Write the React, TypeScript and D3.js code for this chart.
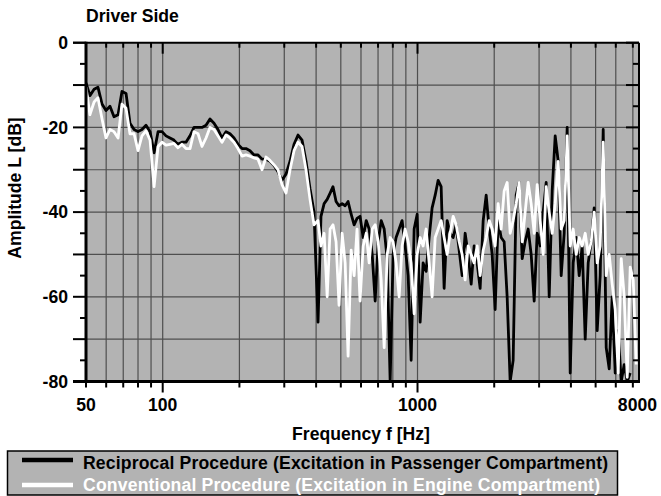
import * as d3 from 'd3'
import React from 'react'

// frequency axis samples [Hz]
const freqs = [
  50, 51.8, 53.8, 55.7, 57.8, 59.9, 62.1, 64.4, 66.8, 69.2, 71.8, 74.4, 77.2, 80.0, 82.9, 86.0, 89.2, 92.5, 95.9, 99.4,
  103.0, 106.8, 110.7, 114.8, 119.0, 123.4, 128.0, 132.7, 137.6, 142.6, 147.9, 153.3, 159.0, 164.8, 170.9, 177.2, 183.7, 190.5, 197.5, 204.8,
  212.3, 220.1, 228.2, 236.6, 245.3, 254.4, 263.7, 273.4, 283.5, 293.9, 304.8, 316.0, 327.6, 339.7, 352.2, 365.1, 378.6, 392.5,
  407, 418, 430, 442, 454, 466, 479, 492, 506, 520, 534, 549, 564, 579, 595, 612, 629, 646, 664, 682,
  701, 720, 740, 760, 781, 802, 824, 847, 870, 894, 919, 944, 970, 997, 1024, 1052, 1081, 1111, 1141, 1173,
  1205, 1238, 1272, 1307, 1343, 1380, 1418, 1457, 1497, 1538, 1580, 1624, 1668, 1714, 1761, 1810, 1860, 1911, 1963, 2017,
  2072, 2129, 2188, 2248, 2310, 2373, 2439, 2506, 2575, 2645, 2718, 2793, 2870, 2949, 3030, 3113, 3199, 3287, 3377, 3470,
  3565, 3663, 3764, 3867, 3974, 4083, 4195, 4310, 4429, 4551, 4676, 4804, 4936, 5072, 5211, 5355, 5502, 5653, 5808, 5968,
  6132, 6301, 6474, 6652, 6835, 7023, 7216,
]

// Reciprocal procedure (excitation in passenger compartment) [dB]
const reciprocal: (number | null)[] = [
  -9.5, -12.5, -11, -10.5, -14.5, -16, -15, -17.5, -17, -11.5, -12, -19, -20.5, -21, -20.5, -19.5, -21, -26, -21, -21,
  -22, -22.5, -23, -24, -23.5, -23.5, -22, -20, -20, -20, -19.5, -18, -19, -20.5, -22.5, -21, -21.5, -22.5, -24, -25,
  -25, -25.5, -26.5, -26.5, -27.5, -27.5, -28, -29, -30.5, -32.5, -31, -28, -24, -21.8, -23, -28, -34.5, -40,
  -66, -41, -38, -37, -35.5, -34, -37.5, -38.5, -38, -38.5, -37.5, -40.5, -43, -41.5, -41, -46, -42, -44, -50, -61,
  -47, -42, -44, -51, -80, -50, -46, -44, -42, -48, -55, -75, -44, -40.5, -66, -52, -54, -46, -39, -36,
  -32.5, -34, -58, -42, -45, -46, -43, -49, -55, -45, -50, -57, -48, -52, -58, -42, -36, -44, -50, -63,
  -42, -46, -47, -60, -80, -75, -36, -33, -51, -47, -44, -50, -61, -45, -48, -40, -33, -60, -35, -22,
  -28, -55, -45, -20, -78, -52, -46, -55, -48, -70, -52, -47, -39, -68, -55, -20.5, -72, -77, -60, -78,
  -68, -80, -76, -80, -78, null, null,
]

// Conventional procedure (excitation in engine compartment) [dB]
const conventional: (number | null)[] = [
  -10.5, -17, -14, -13, -18, -22.5, -20.5, -21, -22.5, -14.5, -15.5, -21.5, -21.5, -25.5, -22, -20.8, -23, -34, -24.5, -23.5,
  -24.2, -24, -23.8, -24.8, -24, -25, -25, -21, -21.5, -24.5, -22.5, -20, -20.5, -22, -23.5, -21.8, -22.5, -23.5, -25, -26.8,
  -26.5, -26.8, -27.2, -27.5, -30, -27, -27.8, -28.8, -30, -33.5, -35.5, -30, -25.5, -23.5, -24.5, -30, -37, -43,
  -42, -48, -45, -60, -44, -43, -47, -62, -45, -52, -74, -49, -55, -44, -61, -48, -45, -52, -44, -43,
  -47, -56, -72, -50, -46, -47, -52, -60, -48, -44, -47, -52, -64, -50, -46, -48, -44, -52, -60, -46,
  -44, -42, -46, -50, -45, -41, -43, -47, -50, -56, -48, -50, -52, -48, -55, -49, -46, -42, -44, -48,
  -38, -44, -35, -33, -45, -42, -38, -33, -47, -40, -33, -38, -45, -33.5, -42, -50, -34, -40, -45, -38,
  -28, -44, -42, -22, -48, -44, -50, -46, -48, -45, -50, -47, -40, -52, -48, -23.5, -55, -50, -57, -63,
  -78, -51, -60, -79, -53, -56, -76,
]

const xLabelTicks = [50, 100, 1000]
const xMinorTicks = [60, 70, 80, 90, 200, 300, 400, 500, 600, 700, 800, 900, 2000, 3000, 4000, 5000, 6000, 7000]
const xMajorTicks = [100, 1000]
const xEndLabel = '8000'
const yLabelTicks = [0, -20, -40, -60, -80]
const yMajorTicks = [0, -10, -20, -30, -40, -50, -60, -70, -80]
const yMinorTicks = [-5, -15, -25, -35, -45, -55, -65, -75]
const seriesNames = [
  'Reciprocal Procedure (Excitation in Passenger Compartment)',
  'Conventional Procedure (Excitation in Engine Compartment)',
]

const FONT = '"Liberation Sans", Arial, sans-serif'
const FS = 17.6

export default function App() {
  const
    left = 86, right = 639, top = 42.7, bottom = 381.5,
    x = d3.scaleLog().domain([50, 7400]).range([left, right]),
    y = d3.scaleLinear().domain([-80, 0]).range([bottom, top]),
    line = d3.line<[number, number | null]>()
      .defined(d => d[1] != null)
      .x(d => x(d[0]))
      .y(d => y(d[1] as number)),
    recPath = line(freqs.map((f, i) => [f, reciprocal[i]])) as string,
    conPath = line(freqs.map((f, i) => [f, conventional[i]])) as string,
    grid = '#4f4f4f',
    bg = '#b3b3b3'

  return (
    <svg width={661} height={496} style={{ position: 'absolute', left: 0, top: 0 }} fontFamily={FONT} fontWeight='bold'>
      <defs>
        <clipPath id='plot'>
          <rect x={left} y={top} width={right - left} height={bottom - top} />
        </clipPath>
      </defs>
      <rect x={left} y={top} width={right - left} height={bottom - top} fill={bg} />
      {/* grid */}
      {yMajorTicks.filter(v => v !== 0 && v !== -80).map(v =>
        <line key={'gy' + v} x1={left} x2={right} y1={y(v)} y2={y(v)} stroke={grid} strokeWidth={1.2} />)}
      {[...xMinorTicks, ...xMajorTicks].map(v =>
        <line key={'gx' + v} x1={x(v)} x2={x(v)} y1={top} y2={bottom} stroke={grid} strokeWidth={1.2} />)}
      {/* series */}
      <g clipPath='url(#plot)'>
        <path d={recPath} fill='none' stroke='#000' strokeWidth={2.8} strokeLinejoin='round' />
        <path d={conPath} fill='none' stroke='#fff' strokeWidth={2.8} strokeLinejoin='round' />
      </g>
      {/* frame */}
      <line x1={73} x2={right} y1={top} y2={top} stroke='#000' strokeWidth={2} />
      <line x1={right} x2={right} y1={top} y2={bottom} stroke='#000' strokeWidth={2} />
      <line x1={left} x2={left} y1={top - 1} y2={bottom + 1.5} stroke='#000' strokeWidth={3} />
      <line x1={73} x2={right + 1} y1={bottom} y2={bottom} stroke='#000' strokeWidth={3} />
      {/* y ticks */}
      {yMajorTicks.map(v => <g key={'ty' + v}>
        <line x1={73} x2={left} y1={y(v)} y2={y(v)} stroke='#000' strokeWidth={2} />
        <line x1={right - 13} x2={right} y1={y(v)} y2={y(v)} stroke='#000' strokeWidth={2} />
      </g>)}
      {yMinorTicks.map(v => <g key={'tym' + v}>
        <line x1={80} x2={left} y1={y(v)} y2={y(v)} stroke='#000' strokeWidth={2} />
        <line x1={right - 6} x2={right} y1={y(v)} y2={y(v)} stroke='#000' strokeWidth={2} />
      </g>)}
      {yLabelTicks.map(v =>
        <text key={'ly' + v} x={68} y={y(v)} dy='0.36em' textAnchor='end' fontSize={FS}>{v}</text>)}
      {/* x ticks */}
      {[50, ...xMinorTicks].map(v => <g key={'tx' + v}>
        <line x1={x(v)} x2={x(v)} y1={bottom} y2={bottom + 6} stroke='#000' strokeWidth={2} />
        {v !== 50 && <line x1={x(v)} x2={x(v)} y1={top} y2={top + 5} stroke='#000' strokeWidth={2} />}
      </g>)}
      {xMajorTicks.map(v => <g key={'txm' + v}>
        <line x1={x(v)} x2={x(v)} y1={bottom} y2={bottom + 11} stroke='#000' strokeWidth={2} />
        <line x1={x(v)} x2={x(v)} y1={top} y2={top + 11} stroke='#000' strokeWidth={2} />
      </g>)}
      {xLabelTicks.map(v =>
        <text key={'lx' + v} x={x(v)} y={411} textAnchor='middle' fontSize={FS}>{v}</text>)}
      <text x={x.range()[1] + 18} y={411} textAnchor='end' fontSize={FS}>{xEndLabel}</text>
      {/* titles */}
      <text x={86} y={22} fontSize={FS}>Driver Side</text>
      <text x={361} y={440} textAnchor='middle' fontSize={FS}>Frequency f [Hz]</text>
      <text transform='translate(21,188) rotate(-90)' textAnchor='middle' fontSize={FS}>Amplitude L [dB]</text>
      {/* legend */}
      <rect x={7.5} y={451} width={610} height={44} fill={bg} stroke='#000' strokeWidth={1.5} />
      <line x1={22} x2={73} y1={460} y2={460} stroke='#000' strokeWidth={4.5} />
      <line x1={22} x2={73} y1={485} y2={485} stroke='#fff' strokeWidth={4.5} />
      <text x={83} y={469} fontSize={FS} fill='#000' textLength={525} lengthAdjust='spacing'>{seriesNames[0]}</text>
      <text x={83} y={490.5} fontSize={FS} fill='#fff' textLength={517} lengthAdjust='spacing'>{seriesNames[1]}</text>
    </svg>
  )
}
